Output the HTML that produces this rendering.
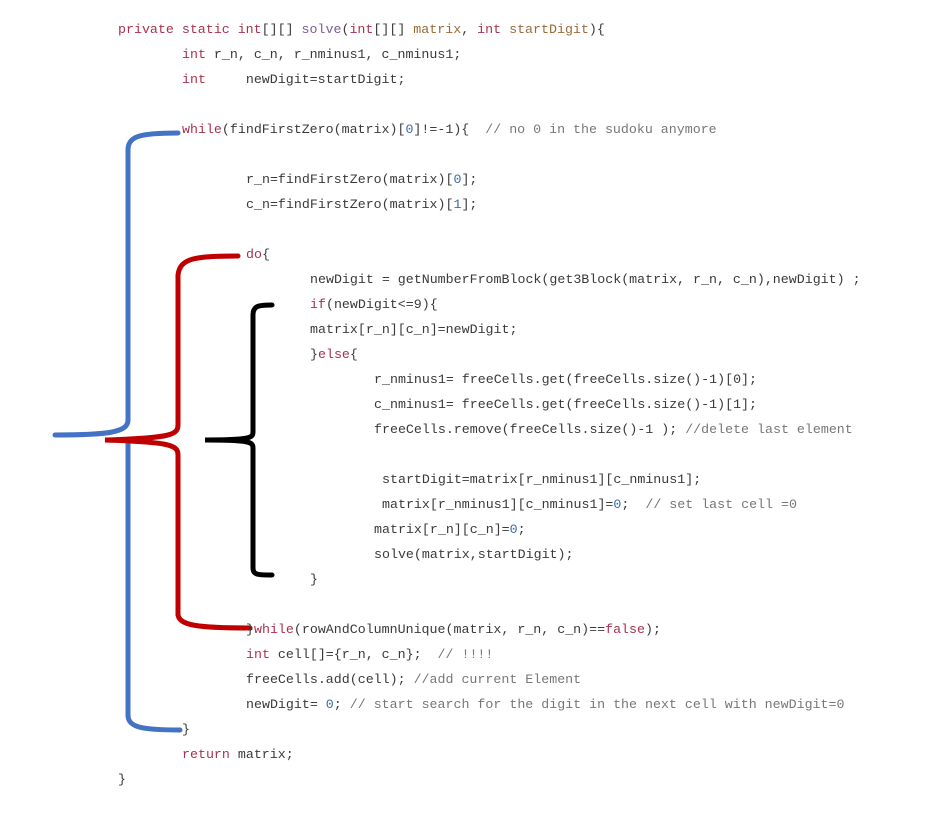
<!DOCTYPE html>
<html><head><meta charset="utf-8"><style>
body{margin:0;background:#fff;width:945px;height:819px;position:relative;overflow:hidden}
.l{position:absolute;font-family:"Liberation Mono",monospace;font-size:13.3px;color:#3a3a3a;white-space:pre;line-height:16px}
.k{color:#a8324e}.m{color:#7b5c9a}.p{color:#9a6a3a}.c{color:#777}.n{color:#3a6aa8}
svg{position:absolute;left:0;top:0}
</style></head><body>
<svg width="945" height="819" fill="none" stroke-linecap="round">
<path d="M178,133 C140,133 128,136 128,150 L128,420 C128,432 110,435 55,435 M128,440 L128,715 C128,727 140,730 180,730" stroke="#4472c4" stroke-width="5"/>
<path d="M238,256 C195,256 180,258 178,275 L178,425 C178,435 170,438 105,440 C170,442 178,445 178,455 L178,615 C180,625 195,628 250,628" stroke="#c00000" stroke-width="5"/>
<path d="M272,305 C258,305 253,306 253,315 L253,432 C253,438 250,440 205,440 C250,440 253,442 253,448 L253,568 C253,575 258,575 272,575" stroke="#000" stroke-width="5"/>
</svg>
<div class="l" style="left:118px;top:22px"><span class="k">private static int</span>[][] <span class="m">solve</span>(<span class="k">int</span>[][] <span class="p">matrix</span>, <span class="k">int</span> <span class="p">startDigit</span>){</div>
<div class="l" style="left:182px;top:47px"><span class="k">int</span> r_n, c_n, r_nminus1, c_nminus1;</div>
<div class="l" style="left:182px;top:72px"><span class="k">int</span>     newDigit=startDigit;</div>
<div class="l" style="left:182px;top:122px"><span class="k">while</span>(findFirstZero(matrix)[<span class="n">0</span>]!=-1){  <span class="c">// no 0 in the sudoku anymore</span></div>
<div class="l" style="left:246px;top:172px">r_n=findFirstZero(matrix)[<span class="n">0</span>];</div>
<div class="l" style="left:246px;top:197px">c_n=findFirstZero(matrix)[<span class="n">1</span>];</div>
<div class="l" style="left:246px;top:247px"><span class="k">do</span>{</div>
<div class="l" style="left:310px;top:272px">newDigit = getNumberFromBlock(get3Block(matrix, r_n, c_n),newDigit) ;</div>
<div class="l" style="left:310px;top:297px"><span class="k">if</span>(newDigit&lt;=9){</div>
<div class="l" style="left:310px;top:322px">matrix[r_n][c_n]=newDigit;</div>
<div class="l" style="left:310px;top:347px">}<span class="k">else</span>{</div>
<div class="l" style="left:374px;top:372px">r_nminus1= freeCells.get(freeCells.size()-1)[0];</div>
<div class="l" style="left:374px;top:397px">c_nminus1= freeCells.get(freeCells.size()-1)[1];</div>
<div class="l" style="left:374px;top:422px">freeCells.remove(freeCells.size()-1 ); <span class="c">//delete last element</span></div>
<div class="l" style="left:382px;top:472px">startDigit=matrix[r_nminus1][c_nminus1];</div>
<div class="l" style="left:382px;top:497px">matrix[r_nminus1][c_nminus1]=<span class="n">0</span>;  <span class="c">// set last cell =0</span></div>
<div class="l" style="left:374px;top:522px">matrix[r_n][c_n]=<span class="n">0</span>;</div>
<div class="l" style="left:374px;top:547px">solve(matrix,startDigit);</div>
<div class="l" style="left:310px;top:572px">}</div>
<div class="l" style="left:246px;top:622px">}<span class="k">while</span>(rowAndColumnUnique(matrix, r_n, c_n)==<span class="k">false</span>);</div>
<div class="l" style="left:246px;top:647px"><span class="k">int</span> cell[]={r_n, c_n};  <span class="c">// !!!!</span></div>
<div class="l" style="left:246px;top:672px">freeCells.add(cell); <span class="c">//add current Element</span></div>
<div class="l" style="left:246px;top:697px">newDigit= <span class="n">0</span>; <span class="c">// start search for the digit in the next cell with newDigit=0</span></div>
<div class="l" style="left:182px;top:722px">}</div>
<div class="l" style="left:182px;top:747px"><span class="k">return</span> matrix;</div>
<div class="l" style="left:118px;top:772px">}</div>
</body></html>
